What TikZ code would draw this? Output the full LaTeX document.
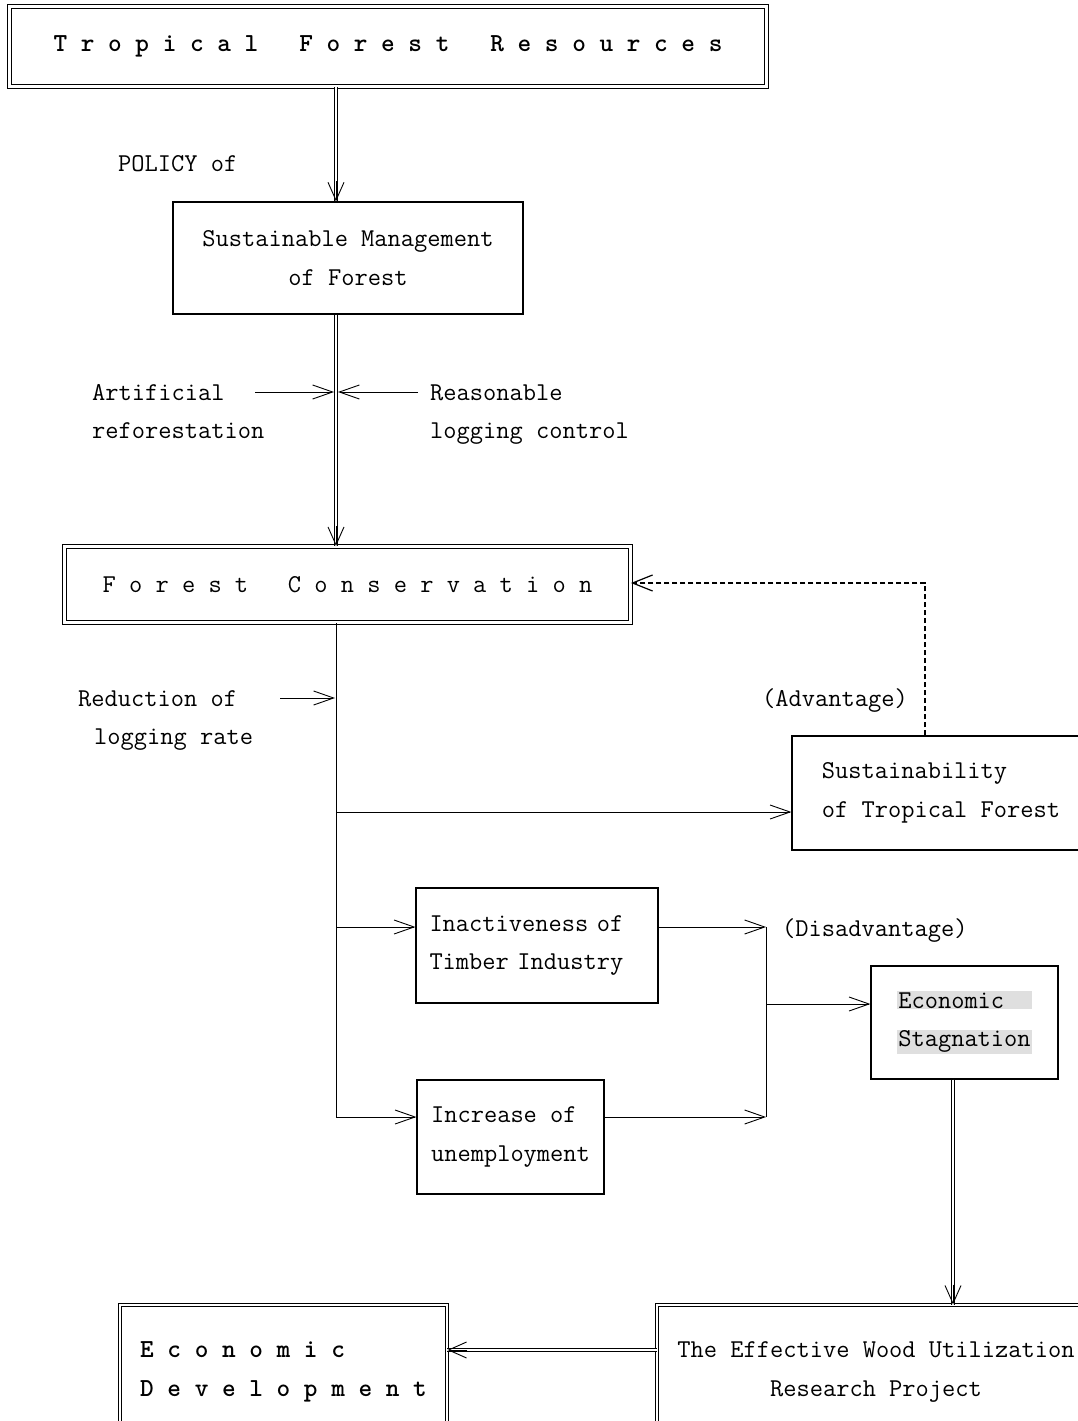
\documentclass[tikz,border=0pt]{standalone}
\usetikzlibrary{arrows.meta,calc}
\newcommand\grayhl[1]{{\setlength{\fboxsep}{1pt}\colorbox{gray!25}{#1}}}
\begin{document}
\begin{tikzpicture}[x=1pt,y=-1pt,
 tx/.style={font=\fontsize{25.7}{38.5}\selectfont\ttfamily, inner sep=0pt},
 box/.style={draw, line width=1.2pt, tx, align=left},
 dbox/.style={box, double, double distance=2.5pt, line width=0.9pt},
 ttl/.style={font=\fontsize{26}{38.5}\selectfont\ttfamily\bfseries},
 conn/.style={line width=0.9pt},
 arr/.style={conn, -{Straight Barb[length=20pt,width=14pt]}},
 dbl/.style={double, double distance=2pt, line width=0.9pt},
 dtip/.style={line width=0.9pt, -{Straight Barb[length=18pt,width=16pt]}},
 dsh/.style={line width=1.2pt, dash pattern=on 5pt off 3pt, -{Straight Barb[length=20pt,width=16pt]}},
]
\useasboundingbox (0,0) rectangle (1078,1421);
\fill[white] (0,0) rectangle (1078,1421);

% boxes
\node[dbox, ttl, minimum width=757, minimum height=80] (top) at (388,46.5) {T r o p i c a l\ \ \ F o r e s t\ \ \ R e s o u r c e s};
\node[box, align=center, minimum width=350, minimum height=112] (sm) at (348,258) {Sustainable Management\\of Forest};
\node[dbox, minimum width=566, minimum height=76] (fc) at (347.5,584.5) {F o r e s t\ \ \ C o n s e r v a t i o n};
\node[box, minimum width=298, minimum height=114] (sus) at (941,793) {Sustainability\\of Tropical Forest};
\node[box, text width=215, inner xsep=13.5, minimum height=115] (inact) at (537,945.5) {Inactiveness of\\Timber Industry};
\node[box, minimum width=187, minimum height=114] (incr) at (510.5,1137) {Increase of\\unemployment};
\node[box, align=center, minimum width=187, minimum height=113] (es) at (964.5,1022.5) {\grayhl{Economic\ \ }\\\grayhl{Stagnation}};
\node[dbox, align=center, minimum width=438, minimum height=134] (rp) at (876,1372) {The Effective Wood Utilization\\Research Project};
\node[dbox, ttl, align=left, minimum width=327, minimum height=134] (ed) at (283.5,1372) {E c o n o m i c\\D e v e l o p m e n t};

% labels (base = baseline of last line)
\node[tx, anchor=base west] (policy) at (118,171) {POLICY of};
\node[tx, anchor=base west, align=left] (artif) at (92,438.5) {Artificial\\reforestation};
\node[tx, anchor=base west, align=left] (reason) at (430,438.5) {Reasonable\\logging control};
\node[tx, anchor=base west, align=left] (reduc) at (78,744.5) {Reduction of\\\hspace*{16pt}logging rate};
\node[tx, anchor=base east] (adv) at (908,706) {(Advantage)};
\node[tx, anchor=base west] (disadv) at (782,936) {(Disadvantage)};

% coordinates
\coordinate (spine) at (336,0);
\coordinate (a1) at (255,392);
\coordinate (a2) at (418,392);
\coordinate (avl) at (334,392);
\coordinate (avr) at (338,392);
\coordinate (r0) at (280,698);
\coordinate (b1) at (335,698);
\coordinate (b2) at (336,812);
\coordinate (b3) at (336,927);
\coordinate (b4) at (336,1117);
\coordinate (j1) at (766,927);
\coordinate (j2) at (766,1117);
\coordinate (j3) at (766,1004);
\coordinate (d) at (925,583);
\coordinate (k) at (953,0);
\coordinate (m) at (0,1350);

% connectors
\draw[dbl] (top.south -| spine) -- (sm.north -| spine);
\draw[dtip] ($(sm.north -| spine)+(0,-20)$) -- (sm.north -| spine);
\draw[dbl] (sm.south -| spine) -- (fc.north -| spine);
\draw[dtip] ($(fc.north -| spine)+(0,-20)$) -- (fc.north -| spine);
\draw[arr] (a1) -- (avl);
\draw[arr] (a2) -- (avr);
\draw[conn] (fc.south -| spine) -- (b4);
\draw[arr] (r0) -- (b1);
\draw[arr] (b2) -- (b2 -| sus.west);
\draw[arr] (b3) -- (b3 -| inact.west);
\draw[arr] (b4) -- (b4 -| incr.west);
\draw[arr] (b3 -| inact.east) -- (j1);
\draw[arr] (b4 -| incr.east) -- (j2);
\draw[conn] (j1) -- (j2);
\draw[arr] (j3) -- (j3 -| es.west);
\draw[dsh] (sus.north -| d) -- (d) -- (d -| fc.east);
\draw[dbl] (es.south -| k) -- (rp.north -| k);
\draw[dtip] ($(rp.north -| k)+(0,-20)$) -- (rp.north -| k);
\draw[dbl] (m -| rp.west) -- (m -| ed.east);
\draw[dtip] ($(m -| ed.east)+(20,0)$) -- (m -| ed.east);
\end{tikzpicture}
\end{document}
